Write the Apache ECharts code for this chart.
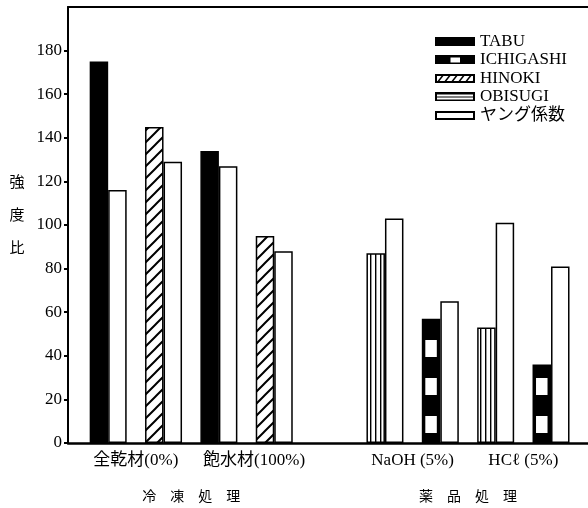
<!DOCTYPE html>
<html><head><meta charset="utf-8">
<script src="https://cdn.jsdelivr.net/npm/echarts@6/dist/echarts.min.js"></script>
<style>html,body{margin:0;padding:0;background:#fff}#c{width:588px;height:508px}</style>
</head><body><div id="c"></div>
<script>
// ---- data ----
const categories = ['全乾材 TABU','全乾材 HINOKI','飽水材 TABU','飽水材 HINOKI','','NaOH OBISUGI','NaOH ICHIGASHI','HCℓ OBISUGI','HCℓ ICHIGASHI'];
const tabu      = [175, null, 134, null, null, null, null, null, null];
const ichigashi = [null, null, null, null, null, null, 57, null, 36];
const hinoki    = [null, 145, null, 95, null, null, null, null, null];
const obisugi   = [null, null, null, null, null, 87, null, 53, null];
const young     = [116, 129, 127, 88, null, 103, 65, 101, 81];
const yTicks = [0, 20, 40, 60, 80, 100, 120, 140, 160, 180];
const groupNames = ['全乾材(0%)', '飽水材(100%)', 'NaOH (5%)', 'HCℓ (5%)'];
const groupSpans = [[0, 1], [2, 3], [5, 6], [7, 8]];
const sectionNames = ['冷凍処理', '薬品処理'];
const sectionSpans = [[0, 3], [5, 8]];
const seriesNames = ['TABU', 'ICHIGASHI', 'HINOKI', 'OBISUGI', 'ヤング係数'];
const yName = '強度比';

// ---- helpers ----
function mk(w, h, draw) { const c = document.createElement('canvas'); c.width = w; c.height = h; const g = c.getContext('2d'); draw(g, w, h); return c; }
const hatchC = mk(12, 12, (g, w, h) => {
  g.fillStyle = '#fff'; g.fillRect(0, 0, w, h);
  g.strokeStyle = '#000'; g.lineWidth = 2; g.beginPath();
  g.moveTo(-1, h + 1); g.lineTo(w + 1, -1);
  g.moveTo(-2, 2); g.lineTo(2, -2);
  g.moveTo(w - 2, h + 2); g.lineTo(w + 2, h - 2);
  g.stroke();
});
const vstripeC = mk(5, 4, (g, w, h) => { g.fillStyle = '#fff'; g.fillRect(0, 0, w, h); g.fillStyle = '#000'; g.fillRect(0, 0, 1.4, h); });
const blockC = mk(4, 38, (g, w, h) => { g.fillStyle = '#000'; g.fillRect(0, 0, w, h); g.fillStyle = '#fff'; g.fillRect(0, 0, w, 15); g.fillRect(0, 36, w, 2); });

function icon(draw) { return 'image://' + mk(80, 18, draw).toDataURL(); }
const icons = [
  icon((g, w, h) => { g.fillStyle = '#000'; g.fillRect(0, 0, w, h); }),
  icon((g, w, h) => { g.fillStyle = '#000'; g.fillRect(0, 0, w, h); g.fillStyle = '#fff'; g.fillRect(31, 4, 19, 10); }),
  icon((g, w, h) => {
    g.fillStyle = '#fff'; g.fillRect(0, 0, w, h);
    g.strokeStyle = '#000'; g.lineWidth = 3; g.beginPath();
    for (let x = -10; x < w + 20; x += 14) { g.moveTo(x, h); g.lineTo(x + 14, 0); }
    g.stroke(); g.lineWidth = 4; g.strokeRect(2, 2, w - 4, h - 4);
  }),
  icon((g, w, h) => { g.fillStyle = '#000'; g.fillRect(0, 0, w, h); g.fillStyle = '#fff'; g.fillRect(4, 4, w - 8, 10); g.fillStyle = '#000'; g.fillRect(4, 8, w - 8, 2); }),
  icon((g, w, h) => { g.fillStyle = '#fff'; g.fillRect(0, 0, w, h); g.strokeStyle = '#000'; g.lineWidth = 4; g.strokeRect(2, 2, w - 4, h - 4); })
];

const serif = "'Liberation Serif','Noto Sans CJK JP',serif";
const border = { borderColor: '#000', borderWidth: 1.5 };

const chart = echarts.init(document.getElementById('c'), null, { renderer: 'canvas' });
const nCat = categories.length;
const groupMap = {}; groupSpans.forEach((s, i) => { groupMap[s[0] + s[1] + 1] = i; });
const sectionMap = {}; sectionSpans.forEach((s, i) => { sectionMap[s[0] + s[1] + 1] = i; });

chart.setOption({
  backgroundColor: '#fff',
  animation: false,
  grid: [
    { left: 68, right: 0, top: 7, bottom: 65 },
    { left: 80.5, right: 9.3, top: 7, bottom: 65 }
  ],
  legend: {
    orient: 'vertical', left: 430, top: 28, itemWidth: 40, itemHeight: 9, itemGap: 1.5,
    selectedMode: false,
    textStyle: { fontFamily: serif, fontSize: 17, color: '#000' },
    data: seriesNames.map((n, i) => ({ name: n, icon: icons[i] }))
  },
  xAxis: [
    { gridIndex: 0, type: 'value', min: 0, max: 1, position: 'bottom',
      axisLine: { show: true, onZero: false, lineStyle: { color: '#000', width: 2.5 } },
      axisTick: { show: false }, axisLabel: { show: false }, splitLine: { show: false } },
    { gridIndex: 0, type: 'value', min: 0, max: 1, position: 'top',
      axisLine: { show: true, onZero: false, lineStyle: { color: '#000', width: 2 } },
      axisTick: { show: false }, axisLabel: { show: false }, splitLine: { show: false } },
    { gridIndex: 1, type: 'category', data: categories, show: false },
    { gridIndex: 1, type: 'value', min: 0, max: 2 * nCat, interval: 1, position: 'bottom',
      axisLine: { show: false }, axisTick: { show: false }, splitLine: { show: false },
      axisLabel: { margin: 9, fontFamily: serif, fontSize: 17, color: '#000',
        formatter: v => { const i = groupMap[v]; if (i === undefined) return ''; return i === 1 ? '{s|' + groupNames[i] + '}' : groupNames[i]; },
        rich: { s: { fontFamily: serif, fontSize: 17, color: '#000', padding: [0, 0, 0, 15] } } } },
    { gridIndex: 1, type: 'value', min: 0, max: 2 * nCat, interval: 1, position: 'bottom',
      axisLine: { show: false }, axisTick: { show: false }, splitLine: { show: false },
      axisLabel: { margin: 46, fontFamily: "'Noto Sans CJK JP',sans-serif", fontSize: 14, color: '#000',
        formatter: v => { const i = sectionMap[v]; return i === undefined ? '' : sectionNames[i].split('').join('\u3000'); } } }
  ],
  yAxis: [
    { gridIndex: 0, type: 'value', min: 0, max: 200, interval: 20,
      axisLine: { show: true, onZero: false, lineStyle: { color: '#000', width: 2 } },
      axisTick: { show: true, inside: false, length: 4, lineStyle: { color: '#000', width: 2 }, customValues: yTicks },
      axisLabel: { customValues: yTicks, margin: 6, fontFamily: serif, fontSize: 17, color: '#000', formatter: v => (v === 200 ? '' : String(v)) },
      splitLine: { show: false },
      name: yName.split('').join('\n') + '\n{e| }', nameLocation: 'middle', nameRotate: 0, nameGap: 51,
      nameTextStyle: { fontFamily: "'Noto Sans CJK JP',sans-serif", fontSize: 15, color: '#000', lineHeight: 33, align: 'center',
        rich: { e: { fontSize: 2, lineHeight: 22 } } } },
    { gridIndex: 1, type: 'value', min: 0, max: 200, show: false }
  ],
  series: [
    { name: 'TABU', type: 'bar', xAxisIndex: 2, yAxisIndex: 1, stack: 'sp', data: tabu, barWidth: 18.5, barGap: '0%',
      itemStyle: Object.assign({ color: '#000' }, border) },
    { name: 'ICHIGASHI', type: 'bar', xAxisIndex: 2, yAxisIndex: 1, stack: 'sp', data: ichigashi,
      itemStyle: { color: { image: blockC, repeat: 'repeat' }, borderColor: '#000', borderWidth: 3.5 } },
    { name: 'HINOKI', type: 'bar', xAxisIndex: 2, yAxisIndex: 1, stack: 'sp', data: hinoki,
      itemStyle: Object.assign({ color: { image: hatchC, repeat: 'repeat' } }, border) },
    { name: 'OBISUGI', type: 'bar', xAxisIndex: 2, yAxisIndex: 1, stack: 'sp', data: obisugi,
      itemStyle: Object.assign({ color: { image: vstripeC, repeat: 'repeat' } }, border) },
    { name: 'ヤング係数', type: 'bar', xAxisIndex: 2, yAxisIndex: 1, data: young, barWidth: 18.5, barGap: '0%',
      itemStyle: Object.assign({ color: '#fff' }, border) }
  ]
});
</script>
</body></html>
